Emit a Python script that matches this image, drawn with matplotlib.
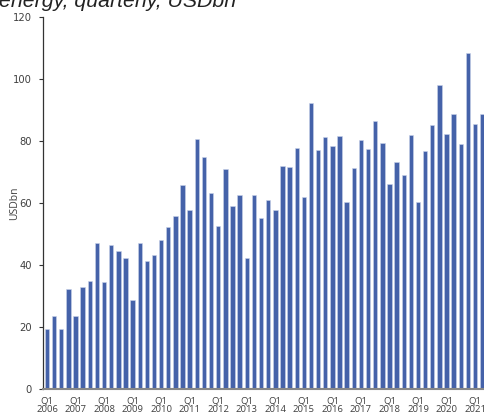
import matplotlib
matplotlib.use("Agg")
import matplotlib.pyplot as plt
import numpy as np

years = list(range(2006, 2022))
quarters = [f"Q{q} {y}" for y in years for q in range(1, 5)][:62]
values = [19.5, 23.5, 19.5, 32.3, 23.5, 32.8, 34.7, 47.1, 34.5, 46.5, 44.4, 42.2,
          28.8, 47.1, 41.3, 43.2, 48.1, 52.3, 55.9, 65.7, 57.6, 80.5, 75.0, 63.1,
          52.5, 71.0, 58.9, 62.6, 42.2, 62.7, 55.1, 61.0, 57.8, 71.9, 71.7, 77.7,
          61.9, 92.2, 77.0, 81.2, 78.3, 81.5, 60.4, 71.2, 80.3, 77.4, 86.5, 79.4,
          66.0, 73.1, 69.0, 81.9, 60.2, 76.7, 85.2, 98.2, 82.4, 88.8, 79.1, 108.3,
          85.5, 88.6]
tick_labels = [f"Q1\n{y}" for y in years]
yticks = [0, 20, 40, 60, 80, 100, 120]

fig = plt.figure(figsize=(4.84, 4.17), dpi=100)
ax = fig.add_axes([43/484, 28/417, 1 - 43/484, (389 - 17)/417])

x = np.arange(len(values))
ax.bar(x, values, width=0.62, color="#4562a9", edgecolor="#c9d3ea", linewidth=0.4)

ax.set_xlim(-0.56, 61.25)
ax.set_ylim(0, 120)
ax.set_yticks(yticks)
ax.set_yticklabels([str(v) for v in yticks], fontsize=7.2, color="#404040", family="DejaVu Sans")
ax.set_xticks(np.arange(0, len(values), 4))
ax.set_xticklabels(tick_labels, fontsize=6.8, color="#404040", family="Open Sans", linespacing=0.95)
ax.tick_params(axis="x", length=0, pad=5.5)
ax.tick_params(axis="y", length=3, width=0.8, color="#333333", pad=5)

for s in ["top", "right"]:
    ax.spines[s].set_visible(False)
ax.spines["left"].set_color("#333333")
ax.spines["left"].set_linewidth(0.9)
ax.spines["bottom"].set_color("#888888")
ax.spines["bottom"].set_linewidth(1.5)

ax.set_ylabel("USDbn", fontsize=7.5, color="#404040", family="Open Sans")
ax.yaxis.set_label_coords(-0.051, 0.5)

fig.text(-0.003, 1 - 7/417, "energy, quarterly, USDbn", fontsize=15.3, style="italic",
         family="Liberation Sans", color="#222222", va="baseline", ha="left")

fig.savefig("out.png", dpi=100)
